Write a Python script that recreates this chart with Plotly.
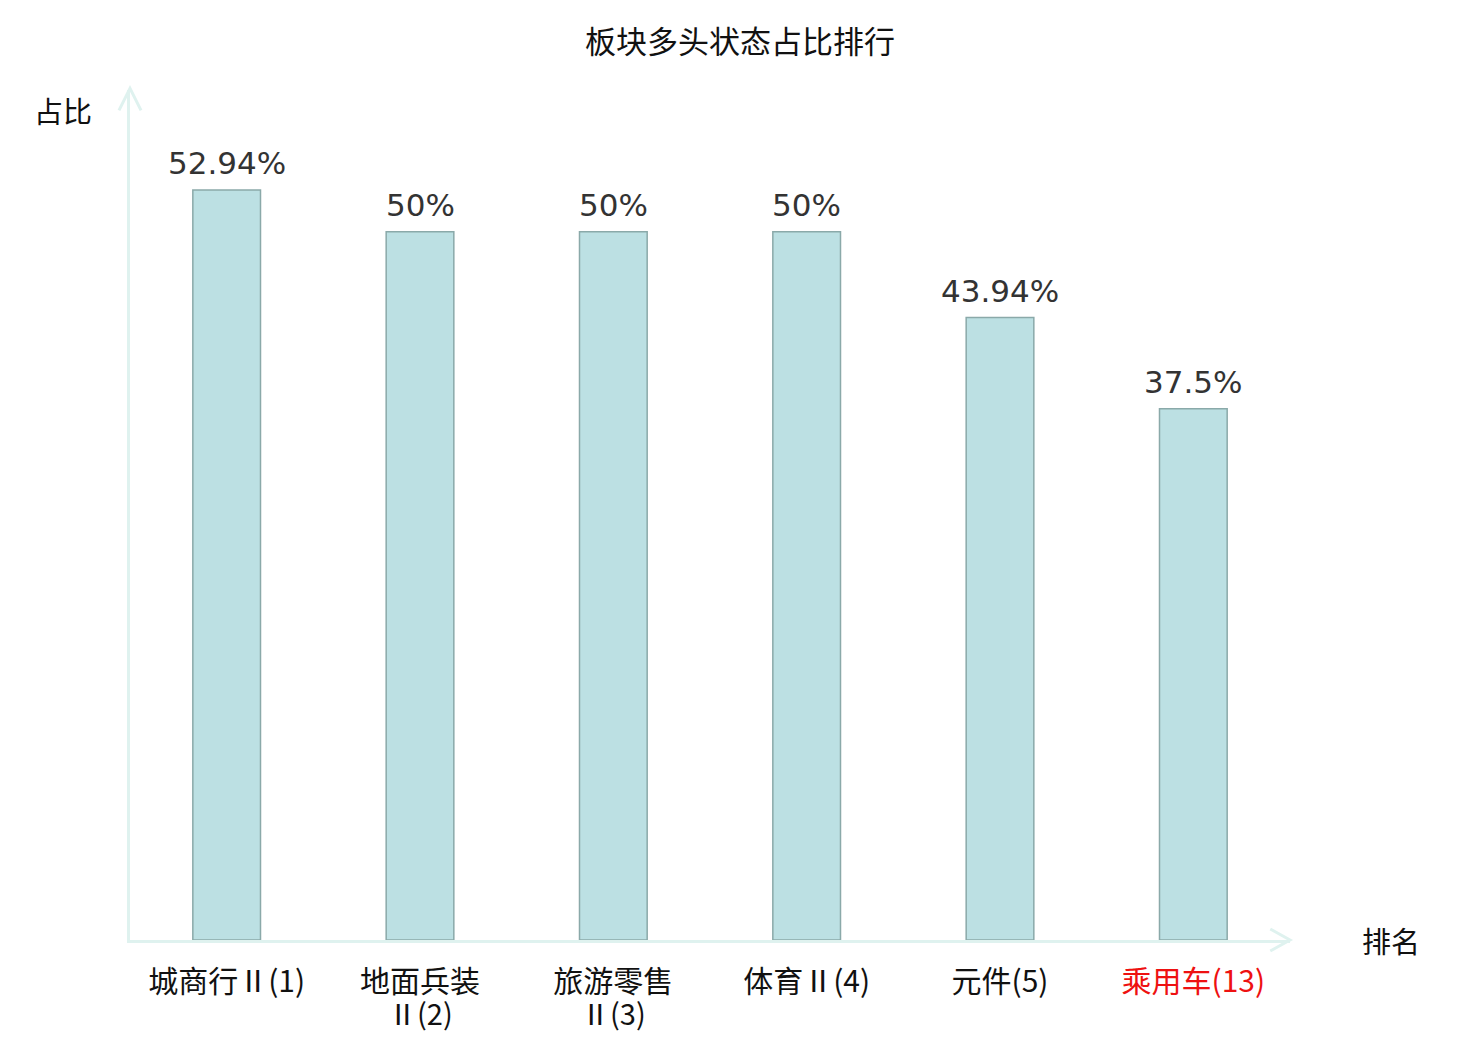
import plotly.graph_objects as go

# 板块多头状态占比
categories = ["城商行Ⅱ(1)", "地面兵装Ⅱ(2)", "旅游零售Ⅱ(3)", "体育Ⅱ(4)", "元件(5)", "乘用车(13)"]
label_line1 = ["城商行Ⅱ(1)", "地面兵装", "旅游零售", "体育Ⅱ(4)", "元件(5)", "乘用车(13)"]
label_line2 = ["", "Ⅱ(2)", "Ⅱ(3)", "", "", ""]
shares = [52.94, 50, 50, 50, 43.94, 37.5]
share_labels = ["52.94%", "50%", "50%", "50%", "43.94%", "37.5%"]
highlight = "乘用车(13)"

AXIS_COLOR = "#dff2ef"
CJK = "Noto Sans CJK SC"
RED = "#ee1111"

# the page body adds 8px around the figure, so the figure is drawn 16px smaller
W, H = 1464, 1024

tick_text = [
    f"<span style='color:{RED}'>{t}</span>" if c == highlight else t
    for c, t in zip(categories, label_line1)
]

fig = go.Figure()
fig.add_trace(go.Bar(
    x=categories,
    y=shares,
    width=0.35,
    marker=dict(color="#bce0e3", line=dict(color="#8aa9a9", width=1.5)),
    hoverinfo="skip",
))

# data labels above bars
for c, v, t in zip(categories, shares, share_labels):
    fig.add_annotation(
        x=c, y=v, text=t, showarrow=False,
        xanchor="center", yanchor="bottom", yshift=7,
        font=dict(family="DejaVu Sans", size=31, color="#333333"),
    )

# second line of the wrapped category names (tighter line spacing than ticks allow)
for c, t in zip(categories, label_line2):
    if t:
        fig.add_annotation(
            x=c, y=0, text=t, showarrow=False,
            xanchor="center", yanchor="middle", yshift=-72,
            font=dict(family=CJK, size=29, color="#111111"),
        )

# axis names
fig.add_annotation(x=-0.058, y=0.976, xref="paper", yref="paper", text="占比",
                   xanchor="center", yanchor="middle", showarrow=False,
                   font=dict(family=CJK, size=29, color="#111111"))
fig.add_annotation(x=1.087, y=0.0, xref="paper", yref="paper", text="排名",
                   xanchor="center", yanchor="middle", showarrow=False,
                   font=dict(family=CJK, size=29, color="#111111"))

# arrow heads on the axes
arrow_style = dict(color=AXIS_COLOR, width=3)
fig.add_shape(type="path", xref="paper", yref="paper",
              path="M -0.0095 0.976 L 0 1.002 L 0.0095 0.976", line=arrow_style)
fig.add_shape(type="path", xref="paper", yref="paper",
              path="M 0.983 0.013 L 1.0 0 L 0.983 -0.013", line=arrow_style)

fig.update_layout(
    width=W, height=H,
    margin=dict(l=122, r=182, t=82, b=92),
    paper_bgcolor="white", plot_bgcolor="white",
    showlegend=False,
    title=dict(text="板块多头状态占比排行", x=0.5, xanchor="center",
               y=1 - 34 / H, yanchor="middle",
               font=dict(family=CJK, size=31, color="#111111")),
    xaxis=dict(
        tickmode="array", tickvals=categories, ticktext=tick_text,
        showline=True, linecolor=AXIS_COLOR, linewidth=3,
        showgrid=False, ticks="", ticklabelstandoff=13, automargin=False,
        tickfont=dict(family=CJK, size=30, color="#111111"),
    ),
    yaxis=dict(
        range=[0, 60], showline=True, linecolor=AXIS_COLOR, linewidth=3,
        showgrid=False, zeroline=False, showticklabels=False, ticks="",
        automargin=False,
    ),
)

fig.write_html("out.html")
